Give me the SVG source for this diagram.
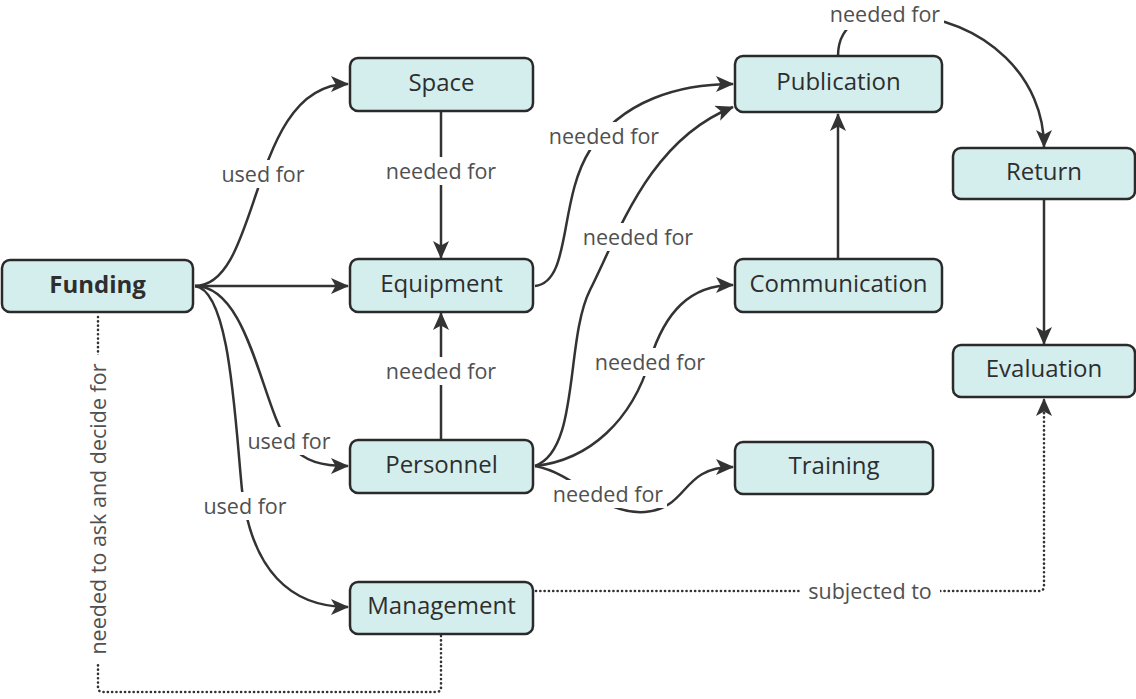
<svg xmlns="http://www.w3.org/2000/svg" width="1136" height="699" viewBox="0 0 1136 699">
  <defs>
    <marker id="arrow" viewBox="0 0 18 16" markerWidth="18" markerHeight="16" markerUnits="userSpaceOnUse" refX="17" refY="8" orient="auto">
      <path d="M0,0 L18,8 L0,16 L4.5,8 Z" fill="#333"/>
    </marker>
    <style>
      .node rect { fill: #d4eeee; stroke: #2a2a2a; stroke-width: 2.5; }
      .node text { font-family: "Open Sans", "Noto Sans", sans-serif; font-size: 24px; fill: #2e2e2e; text-anchor: middle; }
      .node .bold { font-weight: bold; }
      .edge { fill: none; stroke: #333; stroke-width: 2.5; }
      .arrow { marker-end: url(#arrow); }
      .dotted { fill: none; stroke: #333; stroke-width: 2.6; stroke-dasharray: 0.1 4.2; stroke-linecap: round; }
      .lbl rect { fill: #fff; }
      .lbl text { font-family: "Open Sans", "Noto Sans", sans-serif; font-size: 21.5px; fill: #505050; text-anchor: middle; }
    </style>
  </defs>
  <rect width="1136" height="699" fill="#fff"/>

  <!-- connectors -->
  <g id="connectors">
    <path class="edge arrow" d="M195,286 C262,286 248,84 348,84"/>
    <path class="edge arrow" d="M195,286 L348,286"/>
    <path class="edge arrow" d="M195,286 C250,286 262,410 290,445 C305,462 322,466 348,466"/>
    <path class="edge arrow" d="M195,286 C230,290 235,420 242,490 C252,570 290,607 348,607"/>
    <path class="edge arrow" d="M441,111 L441,258"/>
    <path class="edge arrow" d="M441,440 L441,313"/>
    <path class="edge arrow" d="M535,286 C572,282 558,200 590,150 C622,100 680,84 733,84"/>
    <path class="edge arrow" d="M535,466 C580,450 565,340 590,290 C620,230 650,140 733,107"/>
    <path class="edge arrow" d="M535,466 C590,460 632,420 650,360 C665,312 690,285 733,285"/>
    <path class="edge arrow" d="M535,466 C580,475 600,515 645,512 C690,508 680,467 733,467"/>
    <path class="edge arrow" d="M838,259 L838,114"/>
    <path class="edge arrow" d="M838,56 C838,20 870,12 900,14 C990,20 1044,80 1044,147"/>
    <path class="edge arrow" d="M1044,199 L1044,344"/>
    <path class="dotted arrow" d="M536,591 L1039,591 Q1044,591 1044,586 L1044,399"/>
    <path class="dotted" d="M441,636 L441,687 Q441,692 436,692 L103,692 Q98,692 98,687 L98,314"/>

    <!-- connector labels -->
    <g class="lbl">
      <rect x="216" y="160" width="94" height="28"/><text x="263" y="182">used for</text>
      <rect x="382" y="157" width="118" height="28"/><text x="441" y="179">needed for</text>
      <rect x="545" y="122" width="118" height="28"/><text x="604" y="144">needed for</text>
      <rect x="579" y="223" width="118" height="28"/><text x="638" y="245">needed for</text>
      <rect x="591" y="348" width="118" height="28"/><text x="650" y="370">needed for</text>
      <rect x="382" y="357" width="118" height="28"/><text x="441" y="379">needed for</text>
      <rect x="242" y="427" width="94" height="28"/><text x="289" y="449">used for</text>
      <rect x="549" y="480" width="118" height="28"/><text x="608" y="502">needed for</text>
      <rect x="198" y="492" width="94" height="28"/><text x="245" y="514">used for</text>
      <rect x="826" y="0" width="118" height="30"/><text x="885" y="22">needed for</text>
      <rect x="800" y="577" width="140" height="28"/><text x="870" y="599">subjected to</text>
      <rect x="84" y="355" width="28" height="308"/>
      <text transform="translate(106,509) rotate(-90)">needed to ask and decide for</text>
    </g>
  </g>

  <!-- nodes -->
  <g id="funding" class="node"><rect x="2" y="260" width="191" height="52" rx="8"/><text class="bold" x="97.5" y="292.5">Funding</text></g>
  <g id="space" class="node"><rect x="350" y="58" width="183" height="53" rx="8"/><text x="441.5" y="91">Space</text></g>
  <g id="equipment" class="node"><rect x="350" y="259" width="183" height="53" rx="8"/><text x="441.5" y="292">Equipment</text></g>
  <g id="personnel" class="node"><rect x="350" y="440" width="183" height="53" rx="8"/><text x="441.5" y="473">Personnel</text></g>
  <g id="management" class="node"><rect x="350" y="582" width="183" height="52" rx="8"/><text x="441.5" y="614">Management</text></g>
  <g id="publication" class="node"><rect x="735" y="56" width="207" height="56" rx="8"/><text x="838.5" y="90">Publication</text></g>
  <g id="communication" class="node"><rect x="735" y="259" width="207" height="53" rx="8"/><text x="838.5" y="292">Communication</text></g>
  <g id="training" class="node"><rect x="735" y="442" width="198" height="52" rx="8"/><text x="834" y="474">Training</text></g>
  <g id="return" class="node"><rect x="953" y="148" width="182" height="51" rx="8"/><text x="1044" y="180">Return</text></g>
  <g id="evaluation" class="node"><rect x="953" y="345" width="182" height="52" rx="8"/><text x="1044" y="377">Evaluation</text></g>
</svg>
